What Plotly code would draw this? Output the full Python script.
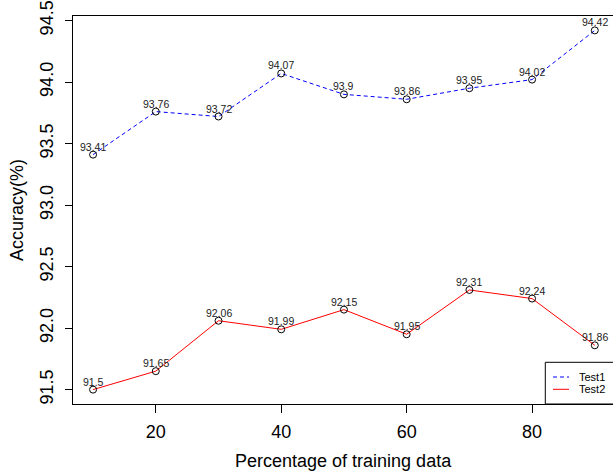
import plotly.graph_objects as go

# Accuracy by share of training data
train_pct = [10, 20, 30, 40, 50, 60, 70, 80, 90]
test1_acc = [93.41, 93.76, 93.72, 94.07, 93.90, 93.86, 93.95, 94.02, 94.42]
test2_acc = [91.50, 91.65, 92.06, 91.99, 92.15, 91.95, 92.31, 92.24, 91.86]
series_names = ["Test1", "Test2"]
x_ticks = [20, 40, 60, 80]
y_ticks = [91.5, 92.0, 92.5, 93.0, 93.5, 94.0, 94.5]

FONT = "Liberation Sans, Arial, sans-serif"
W, H = 613, 473
ML, MR, MT, MB = 73, 0, 16, 69

fig = go.Figure()

styles = [
    dict(color="#0000ff", width=1, dash="4px,3px"),
    dict(color="#ff0000", width=1),
]
for name, vals, st in zip(series_names, [test1_acc, test2_acc], styles):
    fig.add_trace(go.Scatter(
        x=train_pct, y=vals, mode="lines+markers", name=name,
        line=st,
        marker=dict(symbol="circle-open", size=7, color="black",
                    line=dict(color="black", width=1)),
        showlegend=False, cliponaxis=False,
    ))

annotations = []
# value labels above each point
for vals in (test1_acc, test2_acc):
    for xv, yv in zip(train_pct, vals):
        annotations.append(dict(
            x=xv, y=yv, xref="x", yref="y", text=f"{yv:g}",
            showarrow=False, yshift=8, xanchor="center", yanchor="middle",
            font=dict(family=FONT, size=10.5, color="#222222"),
        ))

# axis titles
annotations.append(dict(
    x=0.5, y=0, xref="paper", yref="paper", text="Percentage of training data",
    showarrow=False, yshift=-56.5, xanchor="center", yanchor="middle",
    font=dict(family=FONT, size=18, color="black"),
))
annotations.append(dict(
    x=0, y=0.5, xref="paper", yref="paper", text="Accuracy(%)",
    showarrow=False, xshift=-56, xanchor="center", yanchor="middle",
    textangle=-90, font=dict(family=FONT, size=18, color="black"),
))

# legend box in the bottom-right corner
pw = W - ML - MR
ph = H - MT - MB
def px_x(p):
    return (p - ML) / pw
def px_y(p):
    return (H - MB - p) / ph

shapes = [dict(type="rect", xref="paper", yref="paper",
               x0=px_x(545.3), x1=px_x(640), y0=0, y1=px_y(362.3),
               line=dict(color="black", width=1), fillcolor="white", layer="above")]
legend_rows = [377, 389.3]
for name, st, ry in zip(series_names, styles, legend_rows):
    shapes.append(dict(type="line", xref="paper", yref="paper",
                       x0=px_x(553), x1=px_x(569), y0=px_y(ry), y1=px_y(ry),
                       line=st, layer="above"))
    annotations.append(dict(
        x=px_x(577), y=px_y(ry), xref="paper", yref="paper", text=name,
        showarrow=False, xanchor="left", yanchor="middle",
        font=dict(family=FONT, size=11, color="black"),
    ))

fig.update_layout(
    width=W, height=H,
    margin=dict(l=ML, r=MR, t=MT, b=MB, pad=0),
    paper_bgcolor="white", plot_bgcolor="white",
    font=dict(family=FONT, size=18, color="black"),
    annotations=annotations, shapes=shapes,
    xaxis=dict(
        range=[6.8, 92.9], tickmode="array", tickvals=x_ticks,
        ticktext=[str(v) for v in x_ticks],
        showgrid=False, zeroline=False,
        showline=True, mirror=True, linecolor="black", linewidth=1,
        ticks="outside", ticklen=7.5, tickcolor="black", tickwidth=1,
        tickfont=dict(family=FONT, size=18, color="black"),
        ticklabelstandoff=4,
    ),
    yaxis=dict(
        range=[91.383, 94.537], tickmode="array", tickvals=y_ticks,
        ticktext=[f"{v:.1f}" for v in y_ticks],
        showgrid=False, zeroline=False,
        showline=True, mirror=False, linecolor="black", linewidth=1,
        ticks="outside", ticklen=7.5, tickcolor="black", tickwidth=1,
        tickangle=-90,
        tickfont=dict(family=FONT, size=18, color="black"),
        ticklabelstandoff=4,
    ),
)

fig.write_html("out.html")
